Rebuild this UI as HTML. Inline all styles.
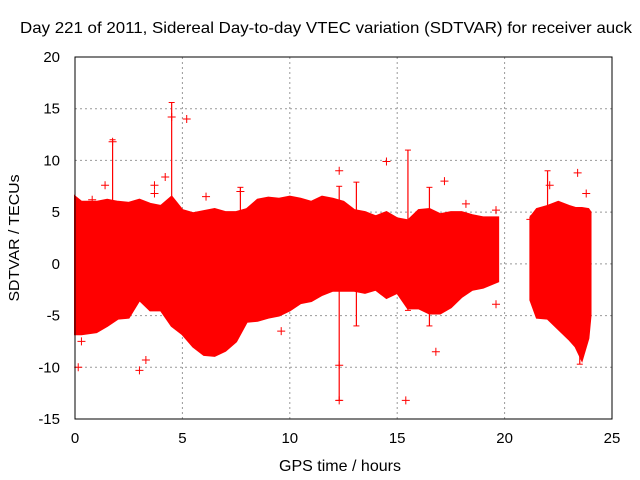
<!DOCTYPE html>
<html><head><meta charset="utf-8"><style>
body{margin:0;background:#fff}
svg{display:block;font-family:"Liberation Sans",sans-serif}
</style></head><body>
<svg id="chart" width="640" height="480">
<text x="326" y="33" font-size="16" text-anchor="middle" textLength="612" lengthAdjust="spacingAndGlyphs">Day 221 of 2011, Sidereal Day-to-day VTEC variation (SDTVAR) for receiver auck</text>
<g id="grid"></g>
<g id="ticks"></g>
<g id="series"></g>
<rect x="75" y="57" width="537" height="362" fill="none" stroke="#000"/>
<text x="340" y="471" font-size="16" text-anchor="middle" textLength="122" lengthAdjust="spacingAndGlyphs">GPS time / hours</text>
<text transform="translate(19,238) rotate(-90)" font-size="15" text-anchor="middle" textLength="127" lengthAdjust="spacingAndGlyphs">SDTVAR / TECUs</text>
</svg>
<script>
const xTicks=[0,5,10,15,20,25];
const yTicks=[-15,-10,-5,0,5,10,15,20];
const seg1Hours=[0,0.3,1,1.5,2,2.5,3,3.5,4,4.5,5,5.5,6,6.5,7,7.5,8,8.5,9,9.5,10,10.5,11,11.5,12,12.5,13,13.5,14,14.5,15,15.5,16,16.5,17,17.5,18,18.5,19,19.7];
const seg1Upper=[6.5,6,6,6.2,6,5.9,6.2,5.8,5.6,6.5,5.2,4.9,5.1,5.3,5,5,5.3,6.2,6.4,6.3,6.5,6.3,6,6.5,6.3,6,5.2,5,4.6,5,4.4,4.2,5.2,5.3,4.8,5,5,4.7,4.5,4.5];
const seg1Lower=[-6.8,-6.8,-6.6,-6,-5.3,-5.2,-3.5,-4.5,-4.5,-6,-6.8,-8,-8.8,-8.9,-8.4,-7.5,-5.6,-5.5,-5.2,-5,-4.5,-3.8,-3.6,-3,-2.6,-2.6,-2.6,-2.8,-2.5,-3.3,-2.8,-4.3,-4.3,-4.8,-4.8,-4.2,-3.2,-2.5,-2.3,-1.7];
const seg2Hours=[21.2,21.5,22,22.5,23,23.3,23.6,23.9,24];
const seg2Upper=[4.5,5.3,5.6,6,5.6,5.4,5.4,5.3,5];
const seg2Lower=[-3.5,-5.2,-5.3,-6.3,-7.3,-8,-9.3,-7.2,-5];
const spikeHours=[1.75,4.5,7.7,12.3,13.1,15.5,16.5,22,23.5];
const spikeLow=[5,5,5,-13.2,-6,-4.5,-6,5,-9.7];
const spikeHigh=[12,15.6,7.4,7.5,7.9,11,7.4,9,5];
const outX=[0.15,0.3,0.8,1.4,1.75,3,3.3,3.7,3.7,4.2,4.5,5.2,6.1,7.7,9.6,12.3,12.3,12.3,14.5,15.4,16.8,17.2,18.2,19.6,19.6,21.2,22.1,23.4,23.8];
const outY=[-10,-7.5,6.2,7.6,11.8,-10.3,-9.3,7.6,6.8,8.4,14.2,14,6.5,7,-6.5,9,-13.2,-9.8,9.9,-13.2,-8.5,8,5.8,-3.9,5.2,4.3,7.6,8.8,6.8];
const NS='http://www.w3.org/2000/svg';
const X=v=>75+v*537/25, Y=v=>419-(v+15)*362/35;
function mk(t,a,p){const e=document.createElementNS(NS,t);for(const k in a)e.setAttribute(k,a[k]);p.appendChild(e);return e;}
const g=document.getElementById('grid'),tk=document.getElementById('ticks'),s=document.getElementById('series');
xTicks.forEach(v=>{
 if(v>0&&v<25){const l=mk('line',{x1:X(v),x2:X(v),y1:57,y2:419,stroke:'#999','stroke-dasharray':'2,3'},g);
 
 }
 const t=mk('text',{x:X(v),y:443,'font-size':15,'text-anchor':'middle'},tk);t.textContent=v;
 
 
});
yTicks.forEach(v=>{
 if(v>-15&&v<20){const l=mk('line',{x1:75,x2:612,y1:Y(v),y2:Y(v),stroke:'#999','stroke-dasharray':'2,3'},g);
 
 }
 const t=mk('text',{x:60,y:Y(v)+5,'font-size':15,'text-anchor':'end'},tk);t.textContent=v;
 
 
});
function band(h,u,lo,name){
 let d='M'+h.map((x,i)=>X(x)+','+Y(u[i])).join('L');
 d+='L'+h.map((x,i)=>X(x)+','+Y(lo[i])).reverse().join('L')+'Z';
 const p=mk('path',{d:d,fill:'#f00',stroke:'#f00','stroke-width':2},s);
 
 
}
band(seg1Hours,seg1Upper,seg1Lower,'data-band-main');
band(seg2Hours,seg2Upper,seg2Lower,'data-band-late');
spikeHours.forEach((h,i)=>{
 const l=mk('line',{x1:X(h),x2:X(h),y1:Y(spikeLow[i]),y2:Y(spikeHigh[i]),stroke:'#f00','stroke-width':1.2},s);
 
 
 [spikeLow[i],spikeHigh[i]].forEach(v=>{const c=mk('path',{d:`M${X(h)-3},${Y(v)}h6`,stroke:'#f00'},s);
 
 });
});
outX.forEach((x,i)=>{
 const px=X(x),py=Y(outY[i]);
 const p=mk('path',{d:`M${px-4},${py}h8M${px},${py-4}v8`,stroke:'#f00','stroke-width':1},s);
 
 
});
</script>
</body></html>
